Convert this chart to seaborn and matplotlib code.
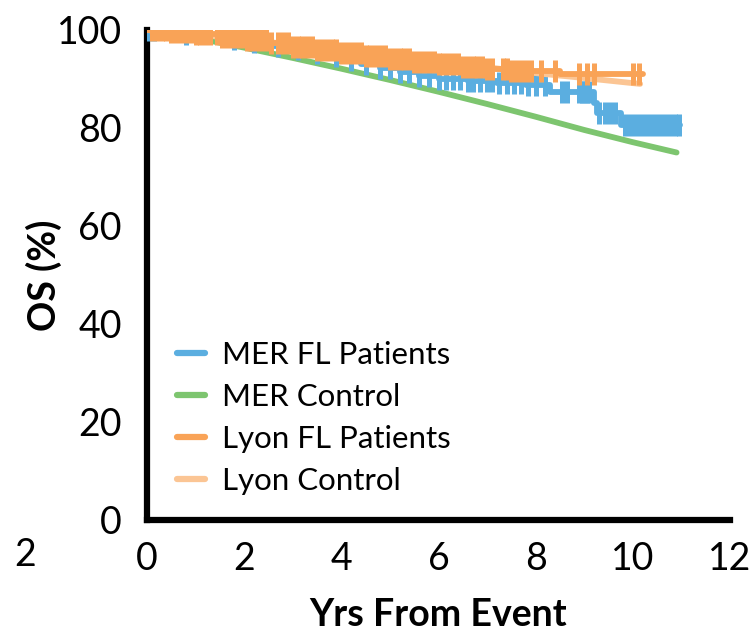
import numpy as np
import pandas as pd
import matplotlib
matplotlib.use("Agg")
import matplotlib.pyplot as plt
import seaborn as sns
from matplotlib.lines import Line2D

sns.set_theme(style="white")
plt.rcParams['font.family'] = ['Lato', 'DejaVu Sans']
plt.rcParams['text.color'] = 'black'
plt.rcParams['axes.labelcolor'] = 'black'
plt.rcParams['xtick.color'] = 'black'
plt.rcParams['ytick.color'] = 'black'

# ---- data ----
series_names = ["MER FL Patients", "MER Control", "Lyon FL Patients", "Lyon Control"]
colors = ["#5BAEE0", "#7DC56F", "#F9A357", "#FBC594"]

mer_x = [0, 0.3, 0.7, 1.2, 1.6, 2.0, 2.4, 2.8, 3.2, 3.6, 4.0, 4.4, 4.8, 5.2, 5.6, 6.0, 6.6, 7.2, 7.8, 8.3, 9.2, 9.27, 9.75, 10.97]
mer_y = [100, 99.6, 99.2, 98.7, 98.1, 97.5, 96.8, 96.1, 95.3, 94.6, 93.8, 93.0, 92.2, 91.4, 90.7, 90.0, 89.6, 89.2, 88.7, 87.3, 85.2, 83.0, 80.6, 80.6]
mer_cens = [0.05, 0.15, 0.8, 1.8, 2.2, 2.7, 3.1, 3.5, 3.9, 4.2, 4.5, 4.8, 5.0, 5.2, 5.4, 5.6, 5.8,
            6.0, 6.15, 6.3, 6.45, 6.6, 6.7, 6.85, 7.0, 7.1, 7.25, 7.4, 7.55, 7.7, 7.85, 8.0, 8.2,
            8.55, 8.65, 8.9, 8.95, 9.0, 9.05, 9.1, 9.3, 9.42, 9.53, 9.63, 9.84, 9.94, 10.04,
            10.14, 10.25, 10.35, 10.45, 10.56, 10.66, 10.76, 10.86, 10.95]

merc_x = [0, 1, 2, 3, 4, 5, 6, 7, 8, 9, 10, 10.9]
merc_y = [100, 98.4, 96.4, 94.3, 92.1, 89.8, 87.4, 84.9, 82.3, 79.6, 77.1, 75.0]

lyon_x = [0, 0.5, 1.0, 1.5, 2.0, 2.5, 3.0, 3.5, 4.0, 4.5, 5.0, 5.5, 6.0, 6.5, 7.0, 7.5, 8.5, 10.2]
lyon_y = [100, 99.6, 99.1, 98.5, 97.9, 97.3, 96.6, 96.0, 95.3, 94.7, 94.0, 93.5, 93.0, 92.4, 92.0, 91.6, 91.1, 91.1]
lyon_cens = [0.1, 0.2, 0.3, 0.4, 0.5, 0.6, 0.7, 0.8, 0.9, 1.0, 1.1, 1.2, 1.3, 1.45, 1.55, 1.65,
             1.75, 1.85, 1.95, 2.05, 2.15, 2.25, 2.35, 2.45, 2.55, 2.7, 2.8, 2.9, 3.0, 3.1, 3.2,
             3.3, 3.4, 3.5, 3.6, 3.7, 3.8, 3.9, 4.0, 4.1, 4.2, 4.3, 4.4, 4.5, 4.6, 4.7, 4.8,
             4.9, 5.0, 5.1, 5.2, 5.3, 5.4, 5.5, 5.6, 5.7, 5.8, 5.9, 6.0, 6.1, 6.2, 6.3, 6.4,
             6.5, 6.6, 6.7, 6.8, 6.9, 7.0, 7.1, 7.33, 7.4, 7.5, 7.6, 7.7, 7.8, 7.9, 8.1, 8.4,
             8.9, 9.05, 9.2, 10.0, 10.12]

lyonc_x = [0, 1, 2, 3, 4, 5, 6, 7, 8, 9, 10.15]
lyonc_y = [100, 99.1, 98.1, 97.0, 95.9, 94.8, 93.6, 92.4, 91.2, 90.2, 89.0]

x_ticks = [0, 2, 4, 6, 8, 10, 12]
y_ticks = [0, 20, 40, 60, 80, 100]


def step_at(xs, ys, t):
    xs = np.asarray(xs); ys = np.asarray(ys)
    idx = np.searchsorted(xs, t, side="right") - 1
    return ys[np.clip(idx, 0, len(ys) - 1)]


fig = plt.figure(figsize=(7.51, 6.31), dpi=100)
ax = fig.add_axes([147 / 751, 1 - 520 / 631, 583 / 751, 490 / 631])

LW = 4.2
TICK_S = 260
TICK_LW = 3.6
# MER control (smooth)
sns.lineplot(x=merc_x, y=merc_y, ax=ax, color=colors[1], lw=LW, estimator=None, sort=False, zorder=2)
# MER FL patients
sns.lineplot(x=mer_x, y=mer_y, ax=ax, color=colors[0], lw=LW, estimator=None, sort=False,
             drawstyle="steps-post", zorder=3)
sns.scatterplot(x=mer_cens, y=step_at(mer_x, mer_y, mer_cens), ax=ax, marker="|", s=TICK_S,
                linewidth=TICK_LW, color=colors[0], zorder=3)
# Lyon control
sns.lineplot(x=lyonc_x, y=lyonc_y, ax=ax, color=colors[3], lw=LW, estimator=None, sort=False, zorder=4)
# Lyon FL patients
sns.lineplot(x=lyon_x, y=lyon_y, ax=ax, color=colors[2], lw=LW, estimator=None, sort=False,
             drawstyle="steps-post", zorder=5)
sns.scatterplot(x=lyon_cens, y=step_at(lyon_x, lyon_y, lyon_cens), ax=ax, marker="|", s=TICK_S,
                linewidth=TICK_LW, color=colors[2], zorder=5)

ax.set_xlim(0, 12)
ax.set_ylim(0, 100)
ax.set_xticks(x_ticks)
ax.set_yticks(y_ticks)
ax.set_xticklabels([str(v) for v in x_ticks])
ax.set_yticklabels([str(v) for v in y_ticks])

for s in ["top", "right"]:
    ax.spines[s].set_visible(False)
for s in ["left", "bottom"]:
    ax.spines[s].set_linewidth(4.5)
    ax.spines[s].set_color("black")
ax.tick_params(axis="x", direction="out", length=9, width=4, labelsize=27, pad=6, colors="black")
ax.tick_params(axis="y", direction="out", length=4, width=4, labelsize=27, pad=14, colors="black")
ax.patch.set_alpha(0)

ax.set_xlabel("Yrs From Event", fontsize=27, fontweight="bold", labelpad=15, color="black")
ax.set_ylabel("OS (%)", fontsize=27, fontweight="bold", labelpad=-3.5, color="black")

handles = [Line2D([0], [0], color=c, lw=4.5) for c in colors]
leg = ax.legend(handles, series_names, loc="upper left", bbox_to_anchor=(0.030, 0.391), frameon=False,
                fontsize=22.5, handlelength=0.9, handletextpad=0.55, labelspacing=0.45,
                borderaxespad=0)
for t in leg.get_texts():
    t.set_color("black")

# fragment of neighbouring panel
fig.text(25 / 751, 1 - 555 / 631, "2", fontsize=27, ha="center", va="center", color="black")

fig.savefig("out.png", dpi=100)
